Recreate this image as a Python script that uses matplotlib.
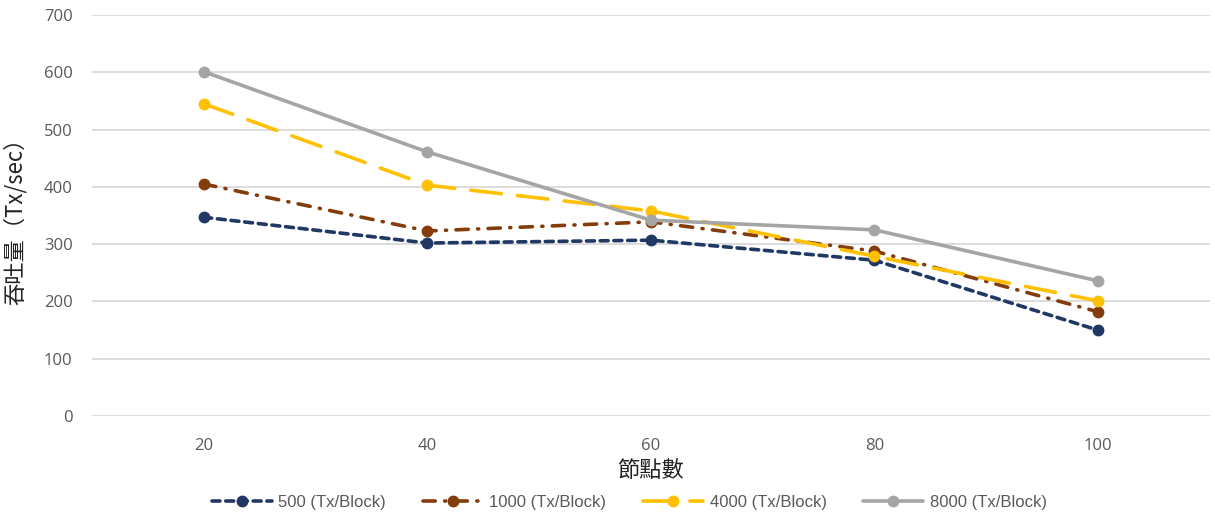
import matplotlib
matplotlib.use("Agg")
import matplotlib.pyplot as plt
from matplotlib import font_manager

nodes = ["20", "40", "60", "80", "100"]
tp_500 = [347, 302, 307, 272, 150]
tp_1000 = [405, 323, 339, 288, 182]
tp_4000 = [545, 403, 358, 279, 201]
tp_8000 = [601, 461, 342, 325, 236]
series_labels = ["500 (Tx/Block)", "1000 (Tx/Block)", "4000 (Tx/Block)", "8000 (Tx/Block)"]
y_ticks = [0, 100, 200, 300, 400, 500, 600, 700]

installed = {f.name for f in font_manager.fontManager.ttflist}
narrow = "Liberation Sans Narrow" if "Liberation Sans Narrow" in installed else "Liberation Sans"

fig = plt.figure(figsize=(12.15, 5.15), dpi=100)
ax = fig.add_axes([0.0757, 0.192, 0.920, 0.779])

x = list(range(len(nodes)))
styles = [
    dict(color="#1F3864", dashes=(2.2, 1.6), dash_capstyle="round"),
    dict(color="#843C0C", dashes=(3.4, 2.6, 0.3, 2.6), dash_capstyle="round"),
    dict(color="#FFC000", dashes=(8.5, 4.5), dash_capstyle="round"),
    dict(color="#A5A5A5"),
]
for vals, lab, st in zip([tp_500, tp_1000, tp_4000, tp_8000], series_labels, styles):
    ax.plot(x, vals, lw=2.6, marker="o", markersize=7.5, label=lab,
            solid_capstyle="round", **st)

ax.set_xlim(-0.5, len(nodes) - 0.5)
ax.set_ylim(0, 700)
ax.set_yticks(y_ticks)
ax.set_xticks(x)
ax.set_xticklabels(nodes)
ax.grid(axis="y", color="#D9D9D9", lw=1.3)
ax.set_axisbelow(True)
for s in ax.spines.values():
    s.set_visible(False)
ax.tick_params(length=0, colors="#595959", labelsize=12)
for t in ax.get_xticklabels() + ax.get_yticklabels():
    t.set_fontfamily(["Open Sans", "DejaVu Sans"])
ax.tick_params(axis="x", pad=16)
ax.tick_params(axis="y", pad=14)

ax.set_ylabel("吞吐量（Tx/sec）", fontsize=16, family=["Noto Sans CJK TC", "DejaVu Sans"],
              color="#222222", labelpad=12)
ax.set_xlabel("節點數", fontsize=16, family=["Noto Sans CJK TC", "DejaVu Sans"],
              color="#222222", labelpad=3)

leg = fig.legend(loc="lower center", bbox_to_anchor=(0.518, -0.02), ncol=4, frameon=False,
                 handlelength=3.6, columnspacing=2.2, handletextpad=0.4,
                 prop={"family": narrow, "size": 12})
for t in leg.get_texts():
    t.set_color("#595959")

fig.savefig("out.png", dpi=100)
